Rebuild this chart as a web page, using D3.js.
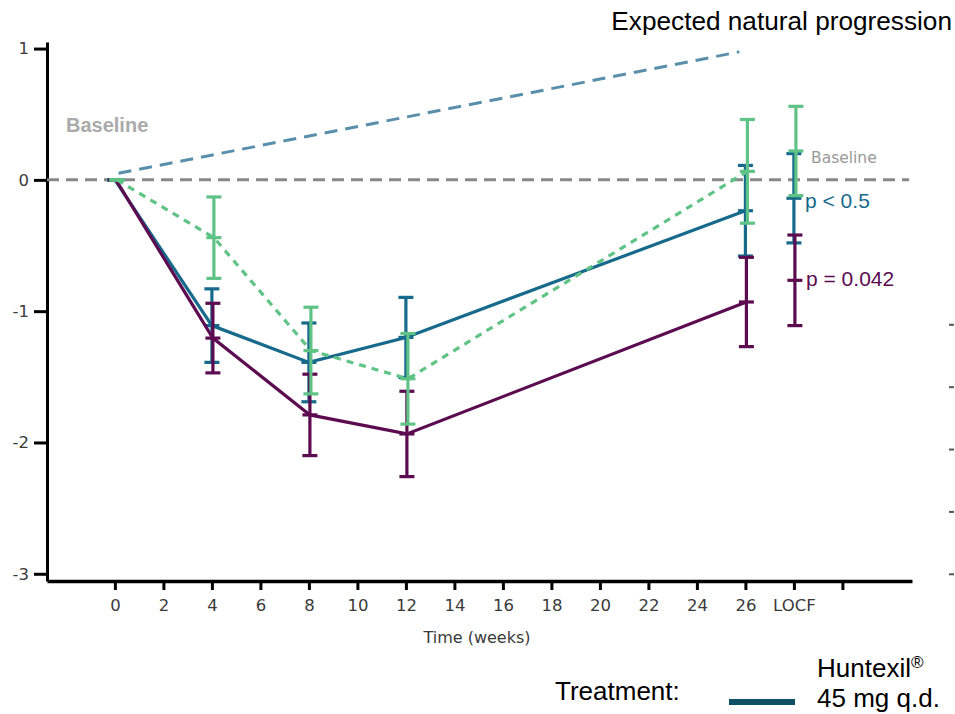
<!DOCTYPE html>
<html>
<head>
<meta charset="utf-8">
<script src="https://cdn.jsdelivr.net/npm/d3@7"></script>
<style>
    body { margin: 0; background: #fff; }
    svg { display: block; }
    .tick text { font-family: "DejaVu Sans", sans-serif; font-size: 16.5px; fill: #3a3a3a; }
</style>
</head>
<body>
<div id="chart"></div>
<script>
// values (change from baseline)
var weeks = [0, 4, 8, 12, 26];
var locf_week = 28;

var huntexil_mean = [0, -1.11, -1.39, -1.20, -0.235];
var huntexil_err = [0, 0.28, 0.30, 0.305, 0.345];
var huntexil_locf = [-0.14, 0.34];

var other_mean = [0, -1.205, -1.79, -1.935, -0.93];
var other_err = [0, 0.265, 0.31, 0.325, 0.34];
var other_locf = [-0.765, 0.345];

var placebo_mean = [0, -0.44, -1.30, -1.515, 0.065];
var placebo_err = [0, 0.31, 0.33, 0.345, 0.395];
var placebo_locf = [0.22, 0.34];

var natural_weeks = [0.15, 25.75];
var natural_values = [0.05, 0.975];

var x_ticks = [0, 2, 4, 6, 8, 10, 12, 14, 16, 18, 20, 22, 24, 26, 28, 30];
var x_tick_labels = ["0", "2", "4", "6", "8", "10", "12", "14", "16", "18", "20", "22", "24", "26", "LOCF", ""];
var y_ticks = [1, 0, -1, -2, -3];
var right_ticks = [-1.1, -1.575, -2.05, -2.525, -3];

var width = 955,
    height = 714;

var svg = d3.select("#chart").append("svg")
    .attr("width", width)
    .attr("height", height);

var x = d3.scaleLinear()
    .domain([-2.8, 32.87])
    .range([47, 912]);

var y = d3.scaleLinear()
    .domain([-3.055, 1.05])
    .range([581, 42]);

// axes
var yAxis = svg.append("g")
    .attr("transform", "translate(" + x(-2.8) + ",0)")
    .call(d3.axisLeft(y).tickValues(y_ticks).tickSize(13).tickSizeOuter(0).tickPadding(5)
        .tickFormat(function(d) { return String(d); }));
yAxis.selectAll("line").attr("stroke", "#000").attr("stroke-width", 3);
yAxis.select(".domain").attr("stroke", "#000").attr("stroke-width", 3);

var xAxis = svg.append("g")
    .attr("transform", "translate(0," + y(-3.055) + ")")
    .call(d3.axisBottom(x).tickValues(x_ticks).tickSize(9).tickSizeOuter(0).tickPadding(9)
        .tickFormat(function(d, i) { return x_tick_labels[i]; }));
xAxis.selectAll("line").attr("stroke", "#000").attr("stroke-width", 3);
xAxis.select(".domain").attr("stroke", "#000").attr("stroke-width", 3.5);

var rAxis = svg.append("g")
    .attr("transform", "translate(949,0)")
    .call(d3.axisRight(y).tickValues(right_ticks).tickSize(5).tickFormat(""));
rAxis.select(".domain").remove();
rAxis.selectAll("line").attr("stroke", "#555").attr("stroke-width", 2);

svg.append("text")
    .attr("x", 477)
    .attr("y", 643)
    .attr("text-anchor", "middle")
    .style("font-family", "DejaVu Sans, sans-serif")
    .style("font-size", "16px")
    .style("fill", "#3a3a3a")
    .text("Time (weeks)");

// baseline
svg.append("line")
    .attr("x1", x(-2.8)).attr("x2", x(32.75))
    .attr("y1", y(0)).attr("y2", y(0))
    .attr("stroke", "#888")
    .attr("stroke-width", 3)
    .attr("stroke-dasharray", "12,7");

// expected natural progression
var natural = natural_weeks.map(function(w, i) { return [w, natural_values[i]]; });
svg.append("path")
    .datum(natural)
    .attr("fill", "none")
    .attr("stroke", "#5a8fac")
    .attr("stroke-width", 3)
    .attr("stroke-dasharray", "13,8")
    .attr("d", d3.line().x(function(d) { return x(d[0]); }).y(function(d) { return y(d[1]); }));

function draw_series(mean, err, locf, color, dash, shift) {
    var pts = weeks.map(function(w, i) {
        return {week: w, m: mean[i], e: err[i]};
    });
    svg.append("path")
        .datum(pts)
        .attr("fill", "none")
        .attr("stroke", color)
        .attr("stroke-width", 3.2)
        .attr("stroke-dasharray", dash)
        .attr("d", d3.line()
            .x(function(d) { return x(d.week) + shift; })
            .y(function(d) { return y(d.m); }));

    var all = pts.concat([{week: locf_week, m: locf[0], e: locf[1]}]);
    var g = svg.append("g")
        .selectAll("g")
        .data(all)
        .enter().append("g")
        .attr("stroke", color)
        .attr("stroke-width", 3.2);
    g.append("line")
        .attr("x1", function(d) { return x(d.week) + shift; })
        .attr("x2", function(d) { return x(d.week) + shift; })
        .attr("y1", function(d) { return y(d.m + d.e); })
        .attr("y2", function(d) { return y(d.m - d.e); });
    [1, 0, -1].forEach(function(k) {
        g.append("line")
            .attr("x1", function(d) { return x(d.week) + shift - 7.5; })
            .attr("x2", function(d) { return x(d.week) + shift + 7.5; })
            .attr("y1", function(d) { return y(d.m + k * d.e); })
            .attr("y2", function(d) { return y(d.m + k * d.e); });
    });
}

draw_series(huntexil_mean, huntexil_err, huntexil_locf, "#176a8b", null, 0);
draw_series(other_mean, other_err, other_locf, "#5c0b51", null, 1);
draw_series(placebo_mean, placebo_err, placebo_locf, "#5fc386", "7,6", 2);

// labels
svg.append("text")
    .attr("x", 66).attr("y", 132)
    .style("font-family", "Liberation Sans, Arial, sans-serif")
    .style("font-size", "20px")
    .style("font-weight", "bold")
    .style("fill", "#aaa")
    .text("Baseline");

svg.append("text")
    .attr("x", 811).attr("y", 163)
    .style("font-family", "DejaVu Sans, sans-serif")
    .style("font-size", "15.5px")
    .style("fill", "#999")
    .text("Baseline");

svg.append("text")
    .attr("x", 805).attr("y", 208)
    .style("font-family", "Liberation Sans, Arial, sans-serif")
    .style("font-size", "21px")
    .style("fill", "#176a8b")
    .text("p < 0.5");

svg.append("text")
    .attr("x", 806).attr("y", 286)
    .style("font-family", "Liberation Sans, Arial, sans-serif")
    .style("font-size", "21px")
    .style("fill", "#5c0b51")
    .text("p = 0.042");

svg.append("text")
    .attr("x", 952).attr("y", 30)
    .attr("text-anchor", "end")
    .style("font-family", "Liberation Sans, Arial, sans-serif")
    .style("font-size", "26.2px")
    .style("fill", "#000")
    .text("Expected natural progression");

// legend
svg.append("text")
    .attr("x", 555).attr("y", 700)
    .style("font-family", "Liberation Sans, Arial, sans-serif")
    .style("font-size", "26px")
    .text("Treatment:");

svg.append("line")
    .attr("x1", 729).attr("x2", 795)
    .attr("y1", 702).attr("y2", 702)
    .attr("stroke", "#0f4f66")
    .attr("stroke-width", 6);

var leg = svg.append("text")
    .attr("x", 817).attr("y", 677)
    .style("font-family", "Liberation Sans, Arial, sans-serif")
    .style("font-size", "26px");
leg.append("tspan").text("Huntexil");
leg.append("tspan").attr("dy", -9).style("font-size", "17px").text("®");

svg.append("text")
    .attr("x", 817).attr("y", 707)
    .style("font-family", "Liberation Sans, Arial, sans-serif")
    .style("font-size", "26px")
    .text("45 mg q.d.");
</script>
</body>
</html>
